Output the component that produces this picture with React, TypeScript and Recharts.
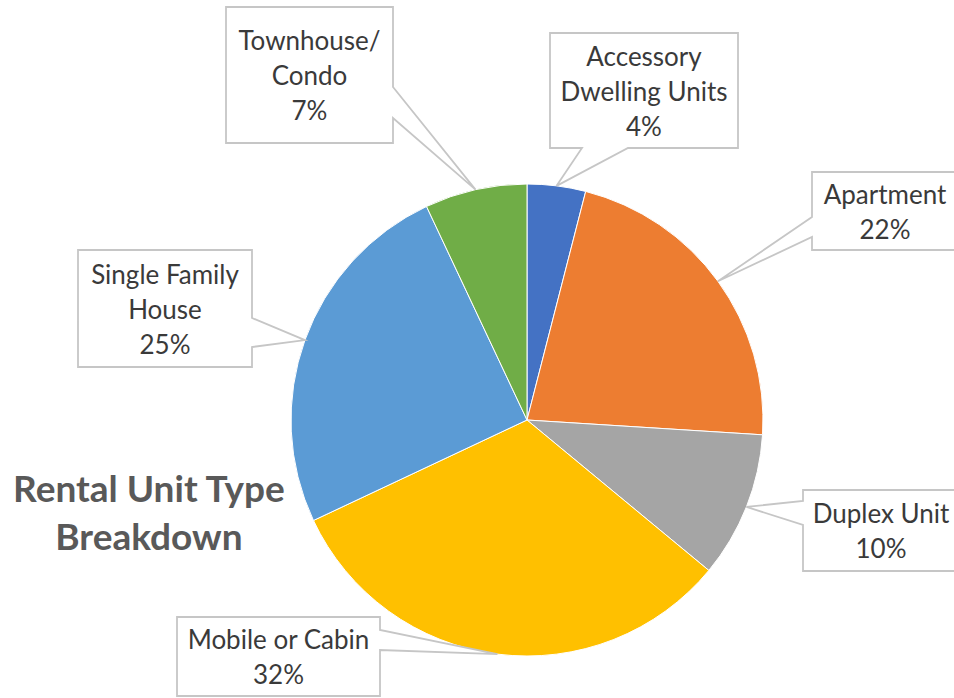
import React from 'react';
import { PieChart, Pie, Cell } from 'recharts';

// Rental unit type shares (percent), clockwise from 12 o'clock
const categories = [
  'Accessory Dwelling Units',
  'Apartment',
  'Duplex Unit',
  'Mobile or Cabin',
  'Single Family House',
  'Townhouse/ Condo',
];
const shares = [4, 22, 10, 32, 25, 7];
const labelLines = [
  ['Accessory', 'Dwelling Units'],
  ['Apartment'],
  ['Duplex Unit'],
  ['Mobile or Cabin'],
  ['Single Family', 'House'],
  ['Townhouse/', 'Condo'],
];
const colors = ['#4472C4', '#ED7D31', '#A5A5A5', '#FFC000', '#5B9BD5', '#70AD47'];

const data = categories.map((name, i) => ({ name, value: shares[i] }));

// callout box placement (svg px); pointer base a..b on the given side
// open: box runs off the right edge of the picture
type Callout = {
  x: number; y: number; w: number; h: number;
  side: 'left' | 'right' | 'bottom'; a: number; b: number; open?: boolean;
};
const callouts: Callout[] = [
  { x: 550, y: 33, w: 188, h: 115, side: 'bottom', a: 582, b: 628 },
  { x: 812, y: 172, w: 146, h: 78, side: 'left', a: 217, b: 237, open: true },
  { x: 803, y: 490, w: 156, h: 81, side: 'left', a: 501, b: 525, open: true },
  { x: 177, y: 617, w: 203, h: 79, side: 'right', a: 630, b: 650 },
  { x: 78, y: 250, w: 174, h: 117, side: 'right', a: 318, b: 347 },
  { x: 226, y: 7, w: 167, h: 136, side: 'right', a: 87, b: 118 },
];

const RAD = Math.PI / 180;
const LINE_H = 35;

const calloutPath = (c: Callout, tx: number, ty: number) => {
  const r = c.open ? c.x + c.w + 30 : c.x + c.w;
  const btm = c.y + c.h;
  let d = `M${c.x},${c.y} L${r},${c.y}`;
  if (c.side === 'right') d += ` L${r},${c.a} L${tx},${ty} L${r},${c.b}`;
  d += ` L${r},${btm}`;
  if (c.side === 'bottom') d += ` L${c.b},${btm} L${tx},${ty} L${c.a},${btm}`;
  d += ` L${c.x},${btm}`;
  if (c.side === 'left') d += ` L${c.x},${c.b} L${tx},${ty} L${c.x},${c.a}`;
  return d + ' Z';
};

const renderCallout = (props: any) => {
  const { cx, cy, midAngle, outerRadius, index, value } = props;
  const c = callouts[index];
  const tx = cx + outerRadius * Math.cos(-midAngle * RAD);
  const ty = cy + outerRadius * Math.sin(-midAngle * RAD);
  const lines = [...labelLines[index], `${value}%`];
  const mx = c.x + c.w / 2;
  const my = c.y + c.h / 2;
  return (
    <g key={`callout-${index}`}>
      <path d={calloutPath(c, tx, ty)} fill="#fff" stroke="#C6C6C6" strokeWidth={1.8} />
      {lines.map((t, i) => (
        <text
          key={i}
          x={mx}
          y={my + (i - (lines.length - 1) / 2) * LINE_H}
          textAnchor="middle"
          dominantBaseline="central"
          fill="#3A3A3A"
          fontSize={26}
          fontFamily="Lato, sans-serif"
        >
          {t}
        </text>
      ))}
    </g>
  );
};

export default function App() {
  return (
    <div style={{ position: 'relative', width: 954, height: 698, background: '#fff', overflow: 'hidden' }}>
      <style>{'body { margin: 0; overflow: hidden; }'}</style>
      <PieChart width={1000} height={698} margin={{ top: 0, right: 0, bottom: 0, left: 0 }}>
        <Pie
          data={data}
          dataKey="value"
          nameKey="name"
          cx={527}
          cy={420}
          outerRadius={236}
          startAngle={90}
          endAngle={-270}
          stroke="#fff"
          strokeWidth={1}
          label={renderCallout}
          labelLine={false}
          isAnimationActive={false}
        >
          {data.map((d, i) => (
            <Cell key={d.name} fill={colors[i]} />
          ))}
        </Pie>
      </PieChart>
      <div
        style={{
          position: 'absolute',
          left: 0,
          top: 464,
          width: 298,
          textAlign: 'center',
          fontFamily: 'Lato, sans-serif',
          fontWeight: 700,
          fontSize: 37,
          lineHeight: '48px',
          color: '#595959',
        }}
      >
        Rental Unit Type
        <br />
        Breakdown
      </div>
    </div>
  );
}
